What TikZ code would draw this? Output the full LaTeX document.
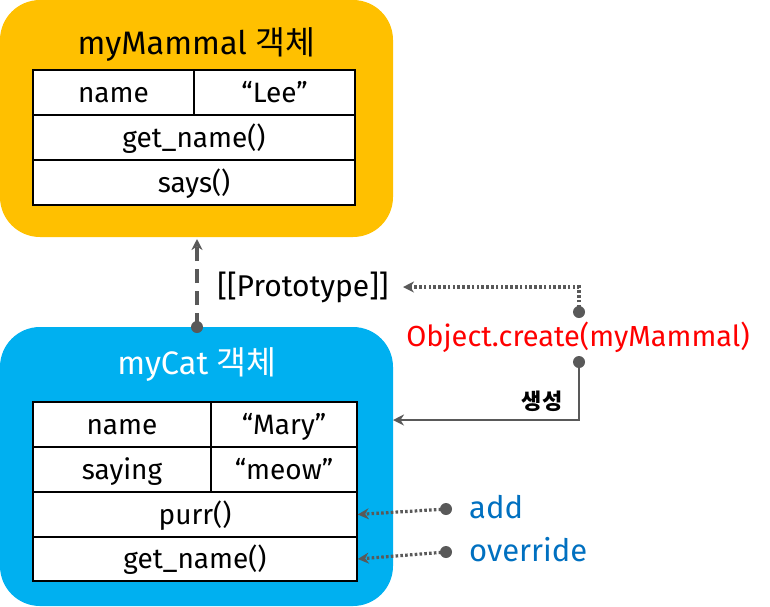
\documentclass[tikz,border=0pt]{standalone}
\usepackage{fontspec}
\setmainfont{Fira Sans}
\newfontfamily\kr{Noto Sans CJK KR}
\usetikzlibrary{arrows.meta}
\definecolor{orng}{HTML}{FFC000}
\definecolor{sky}{HTML}{00B0F0}
\definecolor{grayln}{HTML}{595959}
\definecolor{bluetx}{HTML}{0070C0}
\tikzset{
  cell/.style={draw=black, line width=1.5pt, fill=white, inner sep=0pt, minimum height=45pt, text height=21pt, text depth=2pt, font=\fontsize{28}{30}\selectfont},
  objbox/.style={rounded corners=40pt, inner sep=0pt},
  dotend/.style={circle, fill=grayln, inner sep=0pt, minimum size=12pt},
  dashln/.style={draw=grayln, line width=3.2pt, dash pattern=on 14pt off 8pt, -{Stealth[length=11pt,width=11pt]}},
  dotln/.style={draw=grayln, line width=3.2pt, dash pattern=on 2.6pt off 2.2pt, -{Stealth[length=11pt,width=11pt]}},
  solidln/.style={draw=grayln, line width=2.5pt, -{Stealth[length=11pt,width=11pt]}},
  lbl/.style={inner sep=0pt, font=\fontsize{29}{32}\selectfont},
}
\begin{document}
\begin{tikzpicture}[x=1pt,y=-1pt]
\useasboundingbox (0,0) rectangle (770,606);
% boxes
\node[objbox, fill=orng, minimum width=393pt, minimum height=237pt] (mam) at (196.5,118.5) {};
\node[objbox, fill=sky, minimum width=393pt, minimum height=279pt] (cat) at (196.5,466.5) {};
% titles
\node[lbl, font=\fontsize{32.5}{35}\selectfont] (mamtitle) at (196.5,45) {myMammal {\kr 객체}};
\node[lbl, font=\fontsize{32.5}{35}\selectfont, text=white] (cattitle) at (197,365) {myCat {\kr 객체}};
% top table
\node[cell, minimum width=161pt] (m1) at (113.5,92.5) {name};
\node[cell, minimum width=161pt] (m2) at (274.5,92.5) {“Lee”};
\node[cell, minimum width=322pt] (m3) at (194,137.5) {get\_name()};
\node[cell, minimum width=322pt] (m4) at (194,182.5) {says()};
% bottom table
\node[cell, minimum width=178pt] (c1) at (122,424.5) {name};
\node[cell, minimum width=146pt] (c2) at (284,424.5) {“Mary”};
\node[cell, minimum width=178pt] (c3) at (122,469.5) {saying};
\node[cell, minimum width=146pt] (c4) at (284,469.5) {“meow”};
\node[cell, minimum width=324pt] (c5) at (195,514.5) {purr()};
\node[cell, minimum width=324pt, minimum height=44pt] (c6) at (195,559) {get\_name()};
% prototype link
\node[dotend] (pd) at (197,327) {};
\coordinate (pt) at (197,239);
\draw[dashln] (pd.center) -- (pt);
\node[lbl, font=\fontsize{30}{33}\selectfont] (proto) at (303,287) {[[Prototype]]};
% object.create
\node[lbl, text=red] (oc) at (578,337) {Object.create(myMammal)};
\node[dotend] (od1) at (579,312) {};
\node[dotend] (od2) at (579,362) {};
\coordinate (pa) at (403,287);
\draw[dotln] (od1.center) |- (pa);
\coordinate (ca) at (393,420);
\draw[solidln] (od2.center) |- (ca);
\node[inner sep=0pt, font=\kr\bfseries\fontsize{22}{24}\selectfont] (mk) at (542,401) {생성};
% add / override
\node[dotend] (ad) at (446,509) {};
\node[dotend] (ovd) at (446,552) {};
\draw[dotln] (ad.center) -- (c5.east);
\draw[dotln] (ovd.center) -- (c6.east);
\node[lbl, text=bluetx, anchor=west, font=\fontsize{31}{34}\selectfont] (addt) at (469,507) {add};
\node[lbl, text=bluetx, anchor=west, font=\fontsize{31}{34}\selectfont] (ovt) at (469,550) {override};
\end{tikzpicture}
\end{document}
